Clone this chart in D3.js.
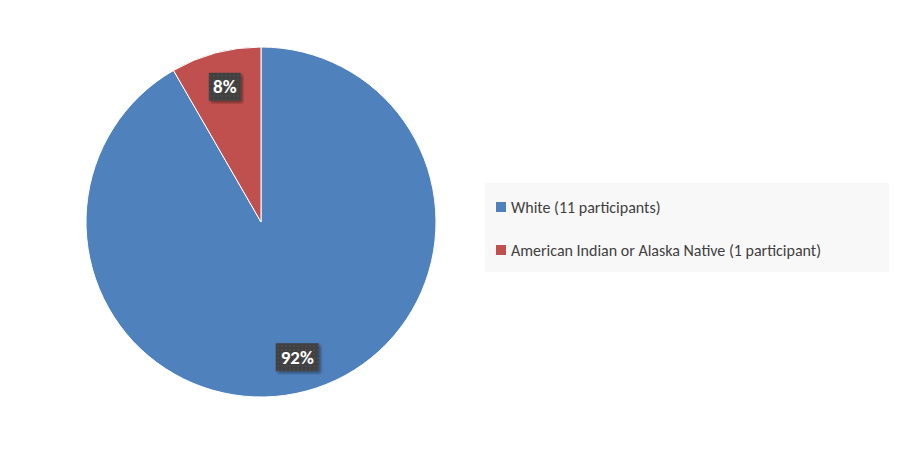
<!DOCTYPE html><html><head><script src="https://cdn.jsdelivr.net/npm/d3@7"></script>
<style>body{margin:0;background:#fff}text{font-family:Calibri,Carlito,"Open Sans",sans-serif}</style></head><body><svg id="c" width="900" height="450"></svg><script>
const categories=["White (11 participants)","American Indian or Alaska Native  (1 participant)"];
const values=[11,1];
const pctLabels=["92%","8%"];
const colors=["#4f81bd","#c0504d"];
const svg=d3.select("#c");
const defs=svg.append("defs");
const pat=defs.append("pattern").attr("id","p").attr("width",4).attr("height",4).attr("patternUnits","userSpaceOnUse");
pat.append("rect").attr("width",4).attr("height",4).attr("fill","#404040");
pat.append("rect").attr("width",2).attr("height",2).attr("fill","#4a4a4a");
const f=defs.append("filter").attr("id","sh");
f.append("feDropShadow").attr("dx",2).attr("dy",2).attr("stdDeviation",1.5).attr("flood-opacity",0.4);
const cx=261,cy=222,r=175;
const pie=d3.pie().sort(null)(values);
const arc=d3.arc().innerRadius(0).outerRadius(r);
const g=svg.append("g").attr("transform",`translate(${cx},${cy})`);
g.selectAll("path").data(pie).join("path").attr("d",arc).attr("fill",(d,i)=>colors[i]).attr("stroke","#fff").attr("stroke-width",1);
const lpos=[d3.arc().innerRadius(r*0.8).outerRadius(r*0.8),d3.arc().innerRadius(r*0.8).outerRadius(r*0.8)];
pie.forEach((d,i)=>{
  const [x,y]=lpos[i].centroid(d);
  const t=pctLabels[i];const w=t.length*11+10;
  const lg=g.append("g").attr("transform",`translate(${x},${y})`);
  lg.append("rect").attr("x",-w/2).attr("y",-14).attr("width",w).attr("height",28).attr("fill","url(#p)").attr("filter","url(#sh)");
  lg.append("text").attr("text-anchor","middle").attr("dy","0.35em").attr("fill","#fff").attr("font-weight","bold").attr("font-size",19).text(t);
});
svg.append("rect").attr("x",485).attr("y",183).attr("width",404).attr("height",89).attr("fill","#f8f8f8");
categories.forEach((c,i)=>{
  const y=207+i*43;
  svg.append("rect").attr("x",496).attr("y",y-5).attr("width",10).attr("height",10).attr("fill",colors[i]);
  svg.append("text").attr("x",511).attr("y",y).attr("dy","0.35em").attr("font-size",16).attr("fill","#404040").text(c);
});
</script></body></html>
